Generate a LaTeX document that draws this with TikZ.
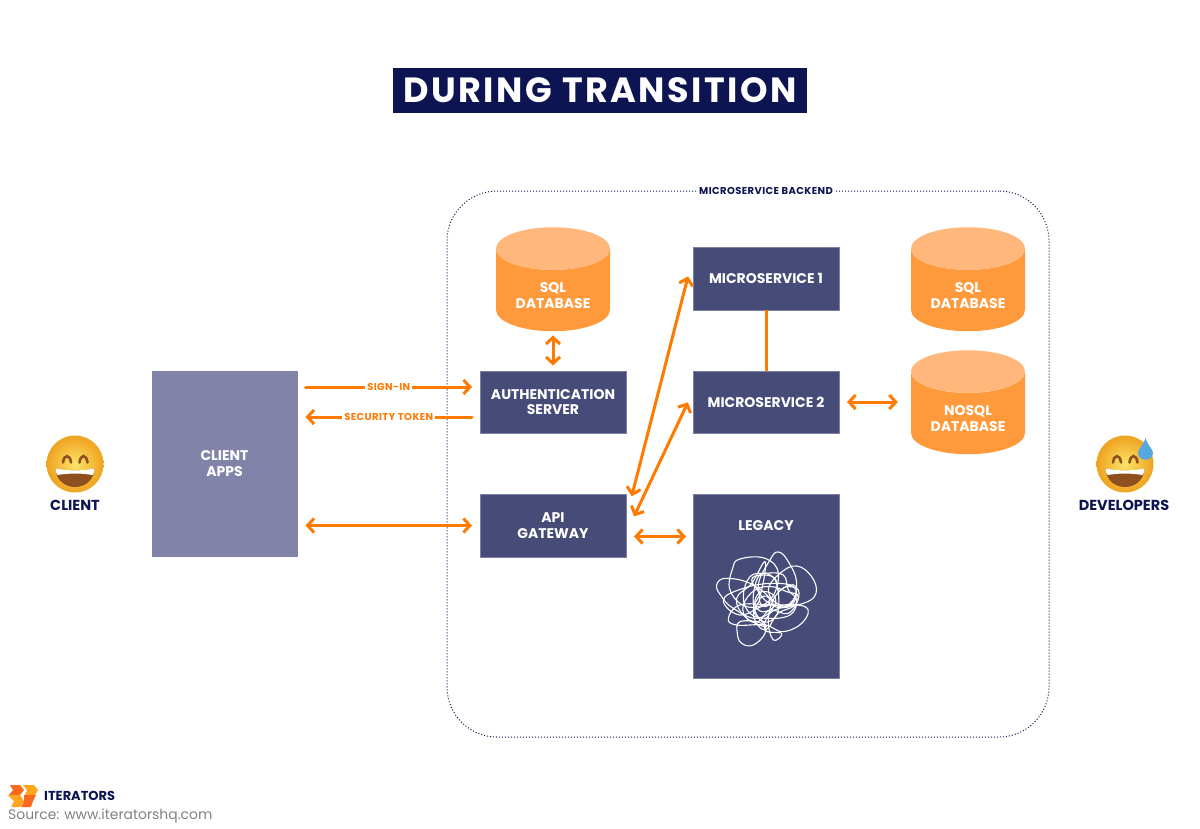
\documentclass[tikz,border=0pt]{standalone}
\usepackage{fontspec}
\setmainfont{Poppins}
\usepackage{tikz}
\usetikzlibrary{arrows.meta, positioning, shapes.geometric}

\definecolor{navy}{HTML}{0D1452}
\definecolor{slate}{HTML}{474B78}
\definecolor{mist}{HTML}{8183A9}
\definecolor{tone}{HTML}{FF7A00}
\definecolor{barrel}{HTML}{FF9A3C}
\definecolor{barreltop}{HTML}{FFB77C}
\definecolor{faceout}{HTML}{EFA21F}
\definecolor{facein}{HTML}{FCE468}
\definecolor{mouth}{HTML}{8F4F1E}
\definecolor{logodark}{HTML}{F96A20}
\definecolor{logolight}{HTML}{FFA51E}
\definecolor{drop}{HTML}{55A9DE}

\begin{document}
\begin{tikzpicture}[
		x=1pt, y=-1pt,
		box/.style={draw=slate!70!white, line width=0.5pt, fill=slate, text=white, font=\fontsize{14}{15.5}\selectfont\bfseries, align=center, minimum width=145.5pt, minimum height=62.5pt, inner sep=0pt},
		db/.style={cylinder, shape border rotate=90, aspect=0.57, cylinder uses custom fill, cylinder body fill=barrel, cylinder end fill=barreltop, text=white, font=\fontsize{14}{15.5}\selectfont\bfseries, align=center, minimum width=114pt, minimum height=104pt, inner sep=0pt, text height=37pt},
		wire/.style={draw=tone, line width=3pt, line cap=round},
		arrow/.style={wire, {Straight Barb[length=6.5pt,width=14pt]}-{Straight Barb[length=6.5pt,width=14pt]}},
		oneway/.style={wire, -{Straight Barb[length=6.5pt,width=14pt]}},
		tag/.style={fill=white, text=tone, font=\fontsize{10}{11}\selectfont\bfseries\addfontfeature{LetterSpace=4}, inner sep=2pt},
		person/.style={text=navy, font=\fontsize{14.5}{15}\selectfont\bfseries},
		tangle/.style={draw=white, line width=1.1pt},
		pics/smiley/.style={code={
			\shade[inner color=facein, outer color=faceout] (0,0) circle (28.5pt);
			\draw[mouth, line width=2.6pt, line cap=round] (-12,-1.5) .. controls (-11,-10) and (-5,-10) .. (-4,-1.5);
			\draw[mouth, line width=2.6pt, line cap=round] (4.5,-1.5) .. controls (5.5,-10) and (11.5,-10) .. (12.5,-1.5);
			\fill[mouth] (-19.5,4.5) .. controls (-6,7.5) and (6,7.5) .. (19.5,4.5) .. controls (19,17) and (9,23) .. (0,23) .. controls (-9,23) and (-19,17) .. (-19.5,4.5);
			\fill[white] (-19.5,4.5) .. controls (-6,7) and (6,7) .. (19.5,4.5) .. controls (19.5,7) and (19,9) .. (17.5,11) .. controls (6,9) and (-6,9) .. (-17.5,11) .. controls (-19,9) and (-19.5,7) .. (-19.5,4.5);
		}}
		]
		
		\useasboundingbox (0,0) rectangle (1200,828);
		
		% Title
		\node[fill=navy, text=white, font=\fontsize{35}{38}\selectfont\bfseries\addfontfeature{LetterSpace=7}, minimum width=414pt, minimum height=45pt, inner sep=0pt] (title) at (600,90.5) {DURING TRANSITION};
		
		% Backend frame
		\node[draw=navy, dash pattern=on 1pt off 2pt, line width=1pt, rounded corners=50pt, minimum width=602pt, minimum height=546pt] (backend) at (748,464) {};
		\node[fill=white, text=navy, font=\fontsize{10}{11}\selectfont\bfseries\addfontfeature{LetterSpace=4}, inner sep=1.5pt] (backendlabel) at (766,191) {MICROSERVICE BACKEND};
		
		% Nodes
		\node[box, fill=mist, draw=mist, minimum height=185.5pt] (apps) at (224.5,463.5) {CLIENT\\APPS};
		\node[box] (auth) at (553,402) {AUTHENTICATION\\SERVER};
		\node[box, below=60.5pt of auth] (gateway) {API\\GATEWAY};
		\node[box, right=67pt of auth] (mstwo) {MICROSERVICE 2};
		\node[box, above=60.5pt of mstwo] (msone) {MICROSERVICE 1};
		\node[box, below=60.5pt of mstwo.south, anchor=north, minimum height=184pt, text depth=122pt] (legacy) {LEGACY};
		
		\node[db] (sqlauth) at (553,290) {SQL\\DATABASE};
		\node[db] (sqlms) at (968,290) {SQL\\DATABASE};
		\node[db] (nosql) at (968,413) {NOSQL\\DATABASE};
		
		% People
		\pic at (75,464) {smiley};
		\pic at (1125,464) {smiley};
		\fill[drop] (1145.5,438) .. controls (1148,446) and (1153,449) .. (1153,453) .. controls (1153,462) and (1138,462) .. (1138,453) .. controls (1138,449) and (1143,446) .. (1145.5,438);
		\node[person] (client) at (75,505) {CLIENT};
		\node[person] (developers) at (1124,505) {DEVELOPERS};
		
		% Arrows
		\draw[oneway, shorten <=8pt, shorten >=8pt] ([yshift=15pt]auth.west -| apps.east) -- node[tag] (signin) {SIGN-IN} ([yshift=15pt]auth.west);
		\draw[oneway, shorten <=8pt, shorten >=8pt] ([yshift=-15pt]auth.west) -- node[tag] (token) {SECURITY TOKEN} ([yshift=-15pt]auth.west -| apps.east);
		\draw[arrow, shorten <=8pt, shorten >=8pt] (gateway.west -| apps.east) -- (gateway.west);
		\draw[arrow, shorten <=4pt, shorten >=5pt] (sqlauth.south) -- (auth.north);
		\draw[arrow, shorten <=23pt, shorten >=20pt] ([yshift=7pt]gateway.east) -- ([yshift=21.5pt]msone.west);
		\draw[arrow, shorten <=19pt, shorten >=12pt] ([yshift=-8pt]gateway.east) -- ([yshift=10.5pt]mstwo.west);
		\draw[arrow, shorten <=8pt, shorten >=7pt] ([yshift=-11pt]gateway.east) -- ([yshift=-11pt]gateway.east -| legacy.west);
		\draw[draw=tone, line width=3pt] (msone.south) -- (mstwo.north);
		\draw[arrow, shorten <=8pt, shorten >=13pt] (mstwo.east) -- (mstwo.east -| nosql.west);
		
		% Scribble
		\begin{scope}[shift={(690,490)}, x=0.3333pt, y=-0.3333pt]
			\draw[tangle] plot[smooth cycle, tension=0.7] coordinates {(128,235) (150,207) (225,205) (265,250) (240,330) (170,350) (120,300)};
			\draw[tangle] plot[smooth cycle, tension=0.7] coordinates {(240,210) (265,186) (295,215) (320,280) (300,345) (245,345) (205,290)};
			\draw[tangle] plot[smooth cycle, tension=0.7] coordinates {(270,250) (320,228) (365,260) (378,310) (340,340) (270,345) (235,300)};
			\draw[tangle] plot[smooth cycle, tension=0.7] coordinates {(80,285) (110,265) (190,285) (250,345) (200,385) (130,355) (95,320)};
			\draw[tangle] plot[smooth cycle, tension=0.7] coordinates {(115,385) (150,345) (240,345) (345,350) (340,395) (280,425) (225,405) (140,405)};
			\draw[tangle] plot[smooth cycle, tension=0.7] coordinates {(142,430) (150,395) (215,400) (225,430) (190,465) (155,460)};
			\draw[tangle] plot[smooth cycle, tension=0.7] coordinates {(225,420) (240,370) (300,340) (320,300) (300,285) (255,320) (235,390) (250,450) (275,430)};
			\draw[tangle] plot[smooth cycle, tension=0.7] coordinates {(180,260) (225,250) (280,255) (295,300) (320,330) (300,375) (230,385) (180,370) (160,320)};
			\draw[tangle] plot[smooth cycle, tension=0.7] coordinates {(195,330) (215,305) (250,315) (255,345) (225,365) (200,355)};
			\draw[tangle] plot[smooth cycle, tension=0.7] coordinates {(210,325) (230,318) (240,335) (228,350) (212,342)};
			\draw[tangle] plot[smooth cycle, tension=0.7] coordinates {(140,325) (185,280) (225,215) (215,300) (190,360) (230,410) (165,380)};
			\draw[tangle] plot[smooth cycle, tension=0.7] coordinates {(185,270) (215,255) (255,265) (265,300) (290,290) (325,300) (315,345) (265,370) (225,420) (190,375) (210,320)};
			\draw[tangle] plot[smooth cycle, tension=0.7] coordinates {(160,345) (195,300) (245,290) (290,305) (325,320) (295,370) (240,360) (205,395) (170,385)};
			\draw[tangle] plot[smooth cycle, tension=0.7] coordinates {(100,330) (160,295) (250,280) (315,295) (300,350) (230,345) (150,375)};
			\draw[tangle] plot[smooth cycle, tension=0.7] coordinates {(205,260) (240,255) (262,290) (262,370) (220,395) (190,340)};
		\end{scope}
		
		% Logo
		\fill[logodark] (10,785) -- (20,785) -- (24,790) -- (20,795) -- (9,795) -- (13,790) -- cycle;
		\fill[logolight] (23,785) -- (34,785) -- (38,790) -- (35,795) -- (25,795) -- (27,790) -- cycle;
		\fill[logolight] (8,795) -- (20,795) -- (24,801) -- (20,807) -- (11,807) -- (14,801) -- cycle;
		\fill[logodark] (24,795) -- (36,795) -- (33,801) -- (31,807) -- (21,807) -- (24,801) -- cycle;
		\node[anchor=west, text=navy, font=\fontsize{13}{14}\selectfont\bfseries, inner sep=0pt] (brand) at (44,796) {ITERATORS};
		\node[anchor=west, text=gray, font=\fontsize{13.9}{15}\selectfont, inner sep=0pt] (source) at (8,816) {Source: www.iteratorshq.com};
		
	\end{tikzpicture}
\end{document}
